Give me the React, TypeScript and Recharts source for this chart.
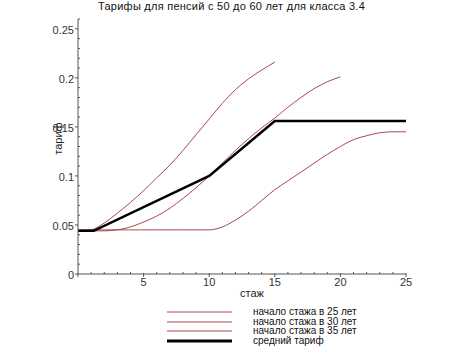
import React from "react";
import { LineChart, Line, XAxis, YAxis, Legend, Label } from "recharts";

const title = "Тарифы для пенсий с 50 до 60 лет для класса 3.4";
const xLabel = "стаж";
const yLabel = "тариф";

const seriesNames = [
  "начало стажа в 25 лет",
  "начало стажа в 30 лет",
  "начало стажа в 35 лет",
  "средний тариф",
];

const start25X = [0, 1, 2, 3, 4, 5, 6, 7, 8, 9, 10, 11, 12, 13, 14, 15];
const start25Y = [0.044, 0.045, 0.052, 0.062, 0.073, 0.085, 0.098, 0.111, 0.126, 0.142, 0.158, 0.174, 0.188, 0.199, 0.208, 0.216];

const start30X = [0, 1, 2, 3, 4, 5, 6, 7, 8, 9, 10, 11, 12, 13, 14, 15, 16, 17, 18, 19, 20];
const start30Y = [0.044, 0.044, 0.044, 0.045, 0.048, 0.053, 0.059, 0.067, 0.077, 0.088, 0.1, 0.113, 0.126, 0.138, 0.149, 0.159, 0.17, 0.18, 0.189, 0.196, 0.201];

const start35X = [0, 2, 4, 6, 8, 10, 11, 12, 13, 14, 15, 16, 17, 18, 19, 20, 21, 22, 23, 24, 25];
const start35Y = [0.045, 0.045, 0.045, 0.045, 0.045, 0.045, 0.048, 0.055, 0.064, 0.075, 0.086, 0.095, 0.104, 0.113, 0.122, 0.13, 0.137, 0.141, 0.144, 0.145, 0.145];

const avgX = [0, 1.2, 10, 15, 25];
const avgY = [0.044, 0.044, 0.1, 0.156, 0.156];

const xTicks = [0, 1, 2, 3, 4, 5, 6, 7, 8, 9, 10, 11, 12, 13, 14, 15, 16, 17, 18, 19, 20, 21, 22, 23, 24, 25];
const yTicks = [0, 0.01, 0.02, 0.03, 0.04, 0.05, 0.06, 0.07, 0.08, 0.09, 0.1, 0.11, 0.12, 0.13, 0.14, 0.15, 0.16, 0.17, 0.18, 0.19, 0.2, 0.21, 0.22, 0.23, 0.24, 0.25, 0.26];

const toRows = (xs: number[], ys: number[]) => xs.map((x, i) => ({ x, y: ys[i] }));
const data25 = toRows(start25X, start25Y);
const data30 = toRows(start30X, start30Y);
const data35 = toRows(start35X, start35Y);
const dataAvg = toRows(avgX, avgY);

const RED = "#a8494e";
const FONT = "'Liberation Sans', Arial, sans-serif";
const TICK_COLOR = "#333";
const AXIS_COLOR = "#555";

const YTick = (props: any) => {
  const { x, y, payload } = props;
  const v = payload.value as number;
  const major = Math.round(v * 100) % 5 === 0;
  return (
    <g>
      <line x1={major ? x - 3 : x} x2={major ? x : x + 2} y1={y} y2={y} stroke={AXIS_COLOR} strokeWidth={1} />
      {major && (
        <text x={x - 4} y={y + 1} textAnchor="end" dominantBaseline="central" fontSize={11} fill={TICK_COLOR} fontFamily={FONT}>
          {String(v)}
        </text>
      )}
    </g>
  );
};

const XTick = (props: any) => {
  const { x, y, payload } = props;
  const v = payload.value as number;
  const major = v % 5 === 0;
  return (
    <g>
      <line x1={x} x2={x} y1={major ? y - 1 : y - 2} y2={major ? y + 3 : y} stroke={AXIS_COLOR} strokeWidth={1} />
      {major && v !== 0 && (
        <text x={x} y={y + 4} textAnchor="middle" dominantBaseline="hanging" fontSize={11} fill={TICK_COLOR} fontFamily={FONT}>
          {String(v)}
        </text>
      )}
    </g>
  );
};

const legendColors = [RED, RED, RED, "#000"];
const legendWidths = [1, 1, 1, 3];

const LegendContent = () => (
  <div style={{ position: "absolute", left: 167, top: 307, fontFamily: FONT, fontSize: 10, color: "#111" }}>
    {seriesNames.map((name, i) => (
      <div key={name} style={{ display: "flex", alignItems: "center", height: 9.7, lineHeight: "9.7px", whiteSpace: "nowrap" }}>
        <svg width={65} height={6} style={{ display: "block" }}>
          <line x1={0} x2={65} y1={3} y2={3} stroke={legendColors[i]} strokeWidth={legendWidths[i]} />
        </svg>
        <span style={{ marginLeft: 21 }}>{name}</span>
      </div>
    ))}
  </div>
);

export default function App() {
  return (
    <div style={{ position: "absolute", left: 0, top: 0, width: 465, height: 361, background: "#fff" }}>
      <div
        style={{
          position: "absolute",
          left: 0,
          width: 465,
          top: 0,
          textAlign: "center",
          fontFamily: FONT,
          fontSize: 11,
          letterSpacing: "0.25px",
          lineHeight: "13px",
          color: "#111",
        }}
      >
        <span style={{ position: "relative", left: -1 }}>{title}</span>
      </div>
      <LineChart width={465} height={361} margin={{ top: 19, right: 59, bottom: 73, left: 38 }} style={{ position: "absolute", left: 0, top: 0 }}>
        <XAxis
          dataKey="x"
          type="number"
          domain={[0, 25]}
          ticks={xTicks}
          interval={0}
          allowDataOverflow
          tickSize={0}
          tickMargin={0}
          tickLine={false}
          tick={<XTick />}
          height={14}
          stroke={AXIS_COLOR}
        >
          <Label value={xLabel} position="bottom" offset={1} dx={10} fontSize={11} fill="#222" fontFamily={FONT} />
        </XAxis>
        <YAxis
          dataKey="y"
          type="number"
          domain={[0, 0.26]}
          ticks={yTicks}
          interval={0}
          allowDataOverflow
          tickSize={0}
          tickMargin={0}
          tickLine={false}
          tick={<YTick />}
          width={40}
          stroke={AXIS_COLOR}
        >
          <Label
            content={(p: any) => {
              const vb = p.viewBox;
              const cx = vb.x + 20;
              const cy = vb.y + vb.height / 2 - 8;
              return (
                <text x={cx} y={cy} transform={`rotate(-90 ${cx} ${cy})`} textAnchor="middle" dominantBaseline="central" fontSize={11} fill="#222" fontFamily={FONT}>
                  {yLabel}
                </text>
              );
            }}
          />
        </YAxis>
        <Legend
          content={<LegendContent />}
          wrapperStyle={{ left: 0, top: 0, bottom: "auto", width: 465, height: 0 }}
        />
        <Line data={data35} dataKey="y" name={seriesNames[2]} type="monotone" stroke={RED} strokeWidth={1} dot={false} isAnimationActive={false} />
        <Line data={data30} dataKey="y" name={seriesNames[1]} type="monotone" stroke={RED} strokeWidth={1} dot={false} isAnimationActive={false} />
        <Line data={data25} dataKey="y" name={seriesNames[0]} type="monotone" stroke={RED} strokeWidth={1} dot={false} isAnimationActive={false} />
        <Line data={dataAvg} dataKey="y" name={seriesNames[3]} type="linear" stroke="#000" strokeWidth={2.5} dot={false} isAnimationActive={false} />
      </LineChart>
    </div>
  );
}
